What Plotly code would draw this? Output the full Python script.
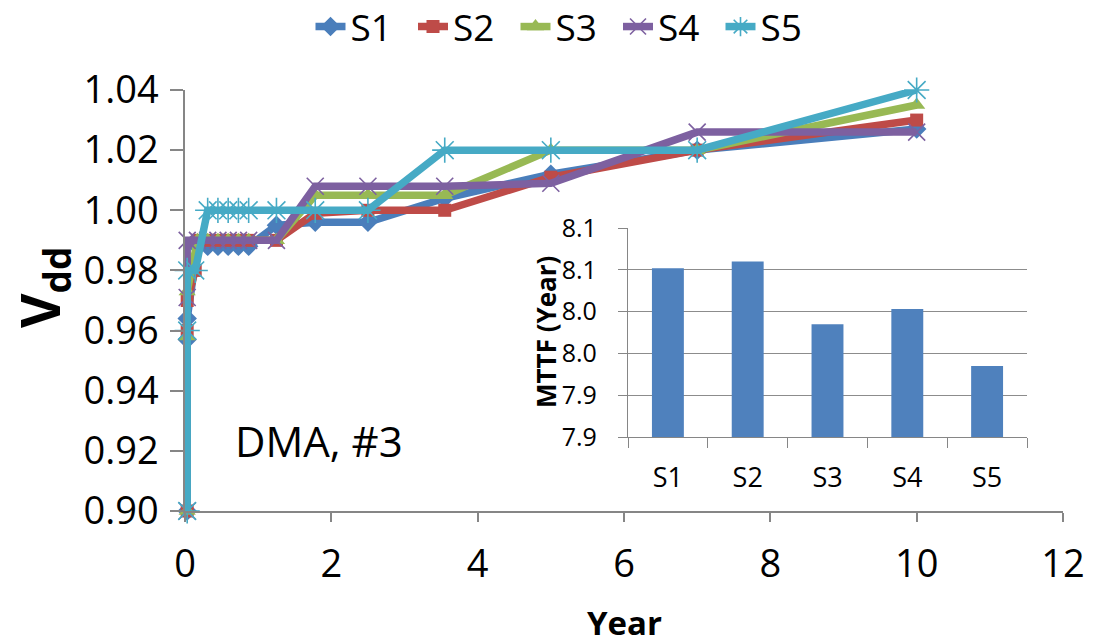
import plotly.graph_objects as go

# Supply-voltage trajectories over the product lifetime (years vs. Vdd)
s1_year = [0.03, 0.03, 0.03, 0.17, 0.31, 0.45, 0.59, 0.73, 0.87, 1.25, 1.78, 2.5, 3.55, 5.0, 7.0, 10.0]
s1_vdd = [0.900, 0.957, 0.964, 0.988, 0.988, 0.988, 0.988, 0.988, 0.988, 0.995, 0.996, 0.996, 1.004, 1.012, 1.020, 1.027]

s2_year = [0.03, 0.03, 0.03, 0.14, 0.17, 0.31, 0.45, 0.59, 0.73, 0.87, 1.25, 1.78, 2.5, 3.55, 5.0, 7.0, 10.0]
s2_vdd = [0.900, 0.960, 0.970, 0.980, 0.990, 0.990, 0.990, 0.990, 0.990, 0.990, 0.990, 0.999, 1.000, 1.000, 1.011, 1.020, 1.030]

s3_year = [0.03, 0.03, 0.03, 0.17, 0.31, 0.45, 0.59, 0.73, 0.87, 1.25, 1.78, 2.5, 3.55, 5.0, 7.0, 10.0]
s3_vdd = [0.900, 0.958, 0.973, 0.990, 0.990, 0.990, 0.990, 0.990, 0.990, 0.990, 1.005, 1.005, 1.005, 1.020, 1.020, 1.035]

s4_year = [0.03, 0.03, 0.03, 0.17, 0.31, 0.45, 0.59, 0.73, 0.87, 1.25, 1.78, 2.5, 3.55, 5.0, 7.0, 10.0]
s4_vdd = [0.900, 0.971, 0.990, 0.990, 0.990, 0.990, 0.990, 0.990, 0.990, 0.990, 1.008, 1.008, 1.008, 1.009, 1.026, 1.026]

s5_year = [0.03, 0.03, 0.03, 0.14, 0.31, 0.45, 0.59, 0.73, 0.87, 1.25, 1.78, 2.5, 3.55, 5.0, 7.0, 10.0]
s5_vdd = [0.900, 0.960, 0.980, 0.980, 1.000, 1.000, 1.000, 1.000, 1.000, 1.000, 1.000, 1.000, 1.020, 1.020, 1.020, 1.040]

# Mean time to failure per scheme (inset)
schemes = ["S1", "S2", "S3", "S4", "S5"]
mttf = [8.052, 8.060, 7.985, 8.003, 7.935]

x_ticks = [0, 2, 4, 6, 8, 10, 12]
y_ticks = [0.90, 0.92, 0.94, 0.96, 0.98, 1.00, 1.02, 1.04]
inset_ticks = [7.85, 7.90, 7.95, 8.00, 8.05, 8.10]
inset_tick_text = ["7.9", "7.9", "8.0", "8.0", "8.1", "8.1"]

FONT = "Open Sans"
AXIS_GREY = "#868686"
GRID_GREY = "#8C8C8C"

series = [
    ("S1", s1_year, s1_vdd, "#4A7EBB", dict(symbol="diamond", size=15)),
    ("S2", s2_year, s2_vdd, "#BE4B48", dict(symbol="square", size=13)),
    ("S3", s3_year, s3_vdd, "#98B954", dict(symbol="triangle-up", size=15)),
    ("S4", s4_year, s4_vdd, "#7D60A0", dict(symbol="x-thin-open", size=17, line=dict(width=1.6, color="#7D60A0"))),
    ("S5", s5_year, s5_vdd, "#46AAC5", dict(symbol="asterisk-open", size=21, line=dict(width=1.6, color="#46AAC5"))),
]

fig = go.Figure()
for name, xs, ys, color, mk in series:
    marker = dict(color=color, **mk)
    fig.add_trace(go.Scatter(
        x=xs, y=ys, name=name, mode="lines+markers",
        line=dict(color=color, width=7.5),
        marker=marker, cliponaxis=False,
        xaxis="x", yaxis="y",
    ))

fig.add_trace(go.Bar(
    x=schemes, y=[v - inset_ticks[0] for v in mttf], base=inset_ticks[0],
    marker=dict(color="#4F81BD", line=dict(width=0)),
    width=0.4, showlegend=False, xaxis="x2", yaxis="y2",
))

W, H = 1093, 644
L, R, T, B = 185, 30, 90, 133
pw, ph = W - L - R, H - T - B


def px_x(p):
    return (p - L) / pw


def px_y(p):
    return (H - B - p) / ph


def label(text, x, y, size, angle=0):
    return dict(text=text, x=px_x(x), y=px_y(y), xref="paper", yref="paper",
                xanchor="center", yanchor="middle", textangle=angle,
                showarrow=False, font=dict(size=size, family=FONT, color="black"))


fig.update_layout(
    width=W, height=H,
    margin=dict(l=L, r=R, t=T, b=B, autoexpand=False),
    paper_bgcolor="white", plot_bgcolor="white",
    font=dict(family=FONT, color="black"),
    showlegend=True,
    legend=dict(
        orientation="h", x=px_x(567), xanchor="center", y=px_y(27), yanchor="middle",
        font=dict(size=37, family=FONT), itemwidth=30, entrywidth=57.5, tracegroupgap=0,
        bgcolor="rgba(0,0,0,0)",
    ),
    xaxis=dict(
        range=[0, 12], tickvals=x_ticks, showgrid=False, zeroline=False,
        showline=True, linecolor=AXIS_GREY, linewidth=1.5,
        ticks="outside", ticklen=9, tickcolor=AXIS_GREY, tickwidth=1.5,
        tickfont=dict(size=38, family=FONT), ticklabelstandoff=10, domain=[0, 1],
    ),
    yaxis=dict(
        range=[0.90, 1.04], tickvals=y_ticks, tickformat=".2f", showgrid=False, zeroline=False,
        showline=True, linecolor=AXIS_GREY, linewidth=1.5,
        ticks="outside", ticklen=13, tickcolor=AXIS_GREY, tickwidth=1.5,
        tickfont=dict(size=38, family=FONT), ticklabelstandoff=4, domain=[0, 1],
    ),
    xaxis2=dict(
        domain=[px_x(628), px_x(1027)], anchor="y2", type="category",
        showgrid=False, zeroline=False, showline=True, linecolor=AXIS_GREY, linewidth=1.2,
        ticks="outside", tickson="boundaries", ticklen=10, tickcolor=AXIS_GREY, tickwidth=1.2,
        tickfont=dict(size=27, family=FONT), ticklabelstandoff=16,
    ),
    yaxis2=dict(
        domain=[px_y(437), px_y(228)], anchor="x2", range=[inset_ticks[0], inset_ticks[-1]],
        tickvals=inset_ticks, ticktext=inset_tick_text,
        showgrid=True, gridcolor=GRID_GREY, gridwidth=1.2, zeroline=False,
        showline=True, linecolor=AXIS_GREY, linewidth=1.2,
        ticks="outside", ticklen=9, tickcolor=AXIS_GREY, tickwidth=1.2,
        tickfont=dict(size=25, family=FONT), ticklabelstandoff=16,
    ),
    annotations=[
        label("<b>V<sub>dd</sub></b>", 42, 288, 53, -90),
        label("<b>Year</b>", 624, 622, 33),
        label("DMA, #3", 319, 440, 42),
        label("<b>MTTF (Year)</b>", 546, 332, 26, -90),
    ],
)

fig.write_html("out.html")
